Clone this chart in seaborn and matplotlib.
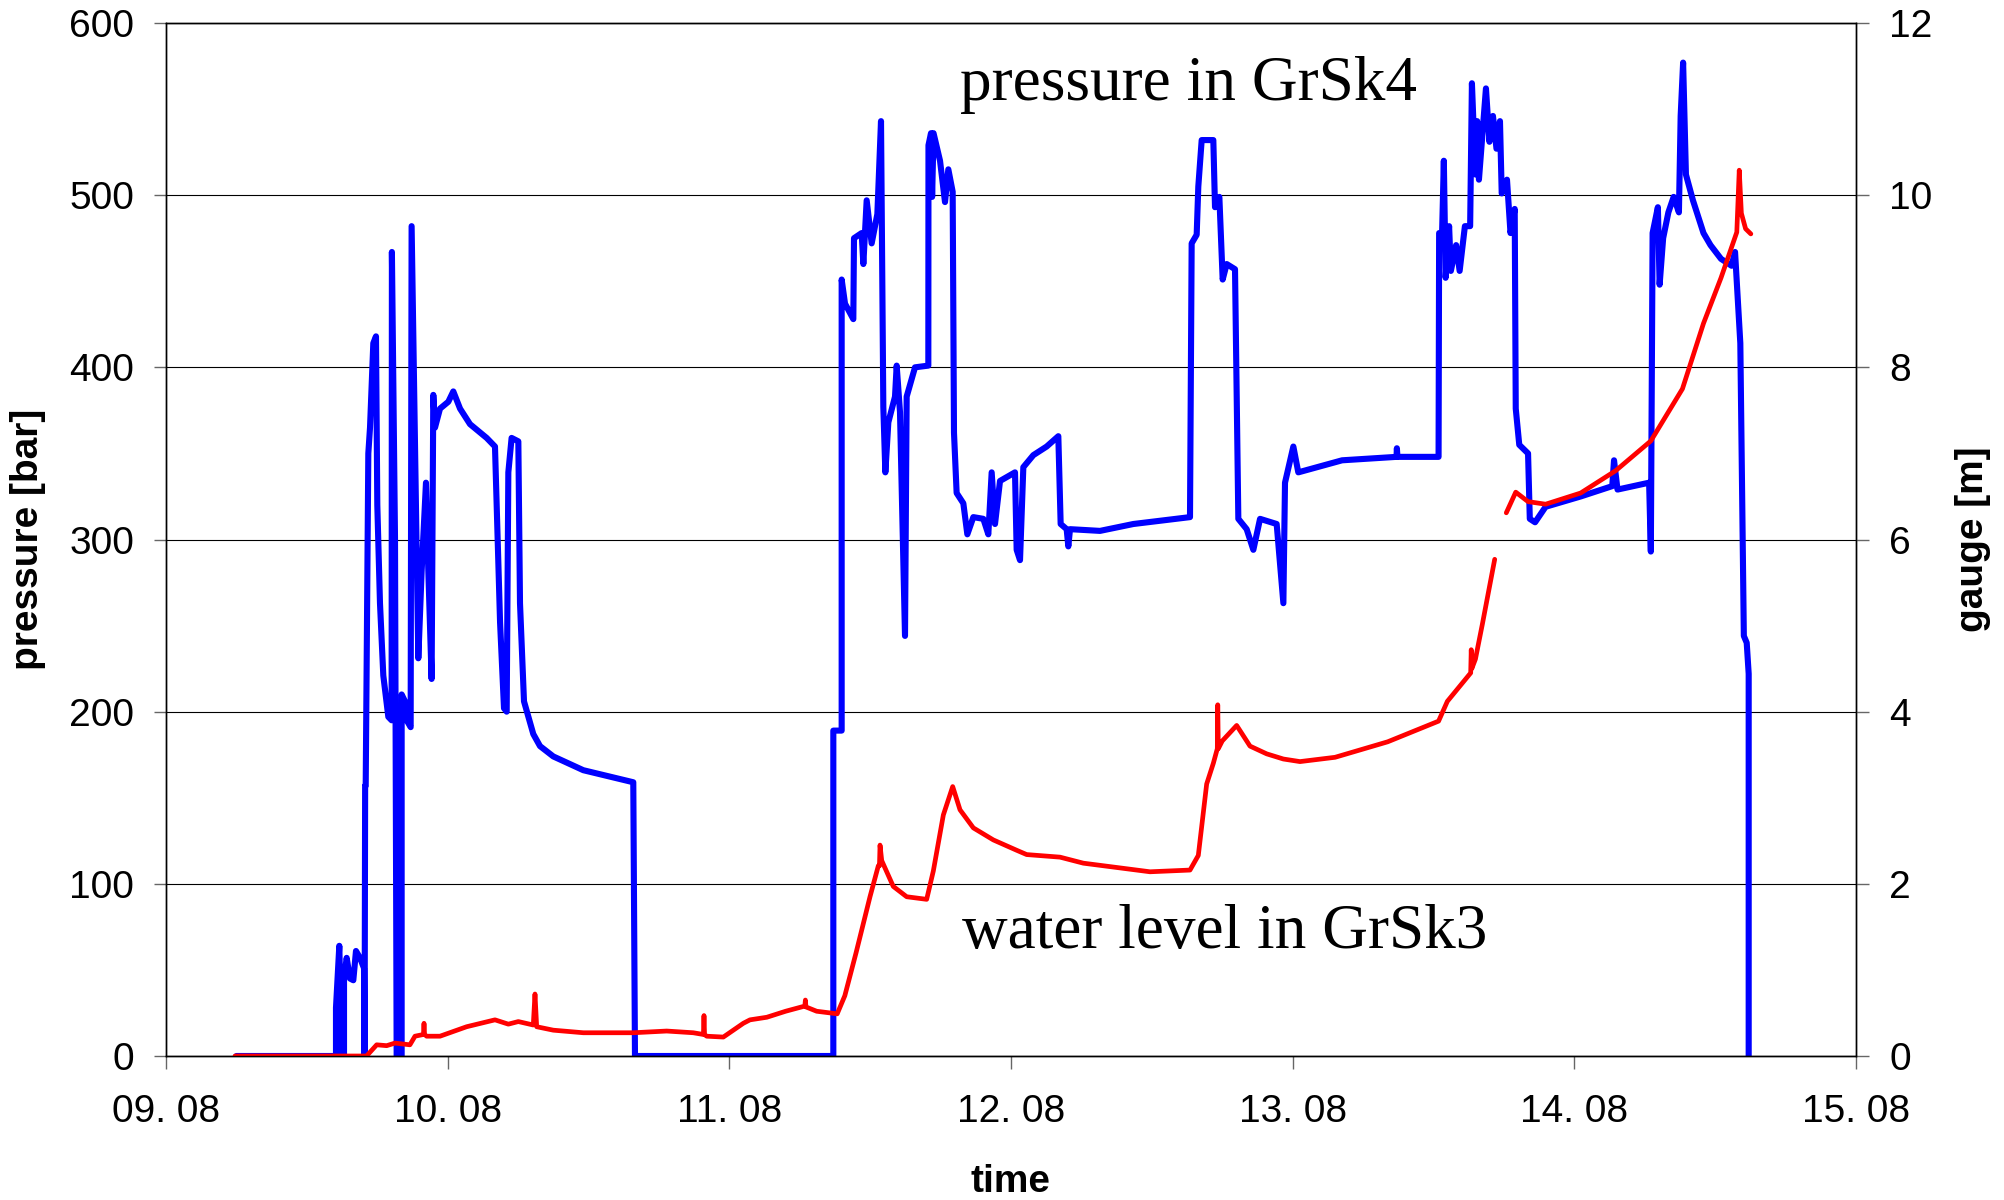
import numpy as np
import pandas as pd
import seaborn as sns
import matplotlib.pyplot as plt

# pressure in GrSk4 (time in days of August, pressure in bar)
p_time = [9.25, 9.60, 9.6035, 9.6035, 9.6153, 9.6236, 9.632, 9.632, 9.6414, 9.6532, 9.665, 9.6745,
          9.6887, 9.703, 9.705, 9.707, 9.709, 9.7183, 9.7243, 9.736, 9.7455, 9.7502, 9.7597, 9.7715,
          9.7893, 9.801, 9.802, 9.813, 9.8189, 9.8366, 9.8366, 9.8485, 9.8544, 9.8686, 9.872, 9.884,
          9.8958, 9.9077, 9.923, 9.9313, 9.943, 9.949, 9.955, 9.9728, 10.0023, 10.02, 10.044, 10.0793,
          10.1384, 10.168, 10.174, 10.186, 10.20, 10.2095, 10.2154, 10.227, 10.2509, 10.2568, 10.271,
          10.304, 10.3278, 10.375, 10.4816, 10.659, 10.665, 11.3692, 11.3692, 11.3988, 11.3988, 11.4107,
          11.4402, 11.4426, 11.4698, 11.4758, 11.4876, 11.5053, 11.5255, 11.5385, 11.5467, 11.5539,
          11.5645, 11.5882, 11.5941, 11.6059, 11.6237, 11.6296, 11.6592, 11.7065, 11.707, 11.716, 11.72,
          11.725, 11.748, 11.7657, 11.7775, 11.7929, 11.7976, 11.807, 11.8308, 11.845, 11.8663, 11.9018,
          11.9195, 11.9314, 11.9432, 11.961, 12.0142, 12.0201, 12.032, 12.0438, 12.0793, 12.1266, 12.168,
          12.1763, 12.1976, 12.2035, 12.2095, 12.316, 12.4343, 12.6355, 12.6414, 12.6592, 12.665, 12.677,
          12.7183, 12.7243, 12.7397, 12.7515, 12.7657, 12.7953, 12.8071, 12.8367, 12.8604, 12.8842,
          12.9432, 12.967, 12.9728, 13.0024, 13.02, 13.1755, 13.3686, 13.370, 13.372, 13.518, 13.52,
          13.5305, 13.5367, 13.543, 13.5554, 13.5616, 13.5803, 13.5928, 13.6115, 13.6301, 13.6364,
          13.6488, 13.655, 13.6613, 13.6737, 13.6862, 13.6986, 13.7111, 13.7236, 13.736, 13.7422,
          13.7609, 13.7734, 13.7883, 13.792, 13.8045, 13.8357, 13.8419, 13.8606, 13.898, 14.0225,
          14.1346, 14.1409, 14.1533, 14.2655, 14.2716, 14.2779, 14.2966, 14.3028, 14.3153, 14.3339,
          14.3526, 14.3713, 14.3775, 14.3862, 14.3962, 14.4211, 14.4585, 14.4834, 14.5208, 14.5581,
          14.5706, 14.5893, 14.6018, 14.612, 14.619, 14.619]
p_bar = [0, 0, 0, 28, 64, 0, 0, 45, 57, 45, 44, 61,
         57, 51, 0, 157, 157, 350, 365, 414, 418, 320, 263, 221,
         197, 195, 467, 301, 0, 0, 210, 206, 195, 191, 482, 357,
         231, 282, 333, 282, 219, 384, 365, 376, 380, 386, 376, 367,
         359, 354, 320, 252, 202, 200, 339, 359, 357, 263, 206,
         187, 180, 174, 166, 159, 0, 0, 189, 189, 451, 437,
         428, 475, 478, 460, 497, 472, 489, 543, 377, 339,
         368, 383, 401, 374, 244, 383, 400, 401, 529, 536, 499,
         536, 520, 496, 515, 502, 362, 327, 321, 303, 313, 312,
         303, 339, 309, 334, 339, 294, 288, 342, 349, 354, 360,
         309, 306, 296, 306, 305, 309, 313, 472, 477, 505, 532,
         532, 493, 499, 451, 460, 457, 312, 306, 294, 312,
         309, 263, 333, 354, 339, 346, 348, 353, 348, 348, 478,
         478, 520, 452, 482, 456, 471, 456, 482, 482, 565,
         512, 543, 509, 535, 562, 531, 546, 527, 543, 501,
         509, 478, 492, 376, 355, 350, 312, 310, 319, 325,
         331, 346, 329, 333, 293, 478, 493, 448, 475, 490,
         499, 490, 546, 577, 512, 497, 478, 471, 463, 459,
         467, 414, 244, 240, 222, 0]

# water level in GrSk3 (gauge in m), two pieces with a gap
w1_time = [9.245, 9.712, 9.748, 9.7834, 9.813, 9.866, 9.884, 9.914, 9.916, 9.918, 9.9254, 9.9728,
           10.0674, 10.168, 10.2154, 10.2509, 10.304, 10.31, 10.316, 10.375, 10.4816, 10.659,
           10.7775, 10.872, 10.908, 10.91, 10.912, 10.9195, 10.9787, 11.0142, 11.0497, 11.0733,
           11.133, 11.2, 11.268, 11.27, 11.272, 11.31, 11.383, 11.41, 11.45, 11.4994, 11.529, 11.533,
           11.535, 11.541, 11.582, 11.6296, 11.7006, 11.7243, 11.7598, 11.793, 11.819, 11.8663,
           11.9373, 12.0201, 12.0556, 12.174, 12.2568, 12.3752, 12.4935, 12.6355, 12.665, 12.6947,
           12.7183, 12.7325, 12.734, 12.736, 12.75, 12.8012, 12.8485, 12.9077, 12.967, 13.026,
           13.1506, 13.3374, 13.518, 13.5492, 13.632, 13.634, 13.636, 13.6488, 13.6737, 13.7173]
w1_gauge = [0.0, 0.0, 0.13, 0.12, 0.15, 0.13, 0.23, 0.25, 0.38, 0.25, 0.23, 0.23,
            0.34, 0.42, 0.37, 0.40, 0.36, 0.72, 0.34, 0.30, 0.27, 0.27,
            0.29, 0.27, 0.25, 0.47, 0.25, 0.23, 0.22, 0.30, 0.38, 0.42,
            0.45, 0.52, 0.58, 0.65, 0.57, 0.52, 0.49, 0.70, 1.20, 1.85, 2.21, 2.21,
            2.45, 2.27, 1.97, 1.85, 1.82, 2.15, 2.80, 3.13, 2.86, 2.65,
            2.51, 2.39, 2.34, 2.31, 2.24, 2.19, 2.14, 2.16, 2.33, 3.16,
            3.40, 3.57, 4.08, 3.57, 3.66, 3.84, 3.60, 3.51, 3.45, 3.42,
            3.47, 3.65, 3.89, 4.12, 4.45, 4.72, 4.50, 4.61, 5.02, 5.77]
w2_time = [13.7584, 13.792, 13.8357, 13.898, 14.0225, 14.1471, 14.2716, 14.3838, 14.4585,
           14.5208, 14.5768, 14.5855, 14.593, 14.608, 14.6267]
w2_gauge = [6.31, 6.55, 6.44, 6.41, 6.54, 6.80, 7.145, 7.75, 8.51,
            9.04, 9.57, 10.29, 9.79, 9.61, 9.55]

day_ticks = [9, 10, 11, 12, 13, 14, 15]
day_labels = ['09. 08', '10. 08', '11. 08', '12. 08', '13. 08', '14. 08', '15. 08']

sns.set_style('ticks')
plt.rcParams['font.family'] = ['Liberation Sans', 'DejaVu Sans']
plt.rcParams['text.color'] = 'black'
plt.rcParams['axes.labelcolor'] = 'black'

pressure = pd.DataFrame({'time': p_time, 'pressure': p_bar})
level1 = pd.DataFrame({'time': w1_time, 'gauge': w1_gauge})
level2 = pd.DataFrame({'time': w2_time, 'gauge': w2_gauge})

fig = plt.figure(figsize=(20.04, 12), dpi=100)
ax = fig.add_axes([166 / 2004, 1 - 1056 / 1200, 1690 / 2004, 1033 / 1200])
ax2 = ax.twinx()

sns.lineplot(data=pressure, x='time', y='pressure', ax=ax, color='#0000ff',
             linewidth=4.4, estimator=None, sort=False)
for lv in (level1, level2):
    sns.lineplot(data=lv, x='time', y='gauge', ax=ax2, color='#ff0000',
                 linewidth=3.4, estimator=None, sort=False)

ax.set_xlim(9, 15)
ax.set_ylim(0, 600)
ax2.set_ylim(0, 12)
ax.set_xticks(day_ticks)
ax.set_xticklabels(day_labels)
ax.set_yticks(range(0, 601, 100))
ax2.set_yticks(range(0, 13, 2))
ax.yaxis.grid(True, color='black', linewidth=0.8)
ax2.grid(False)

for a in (ax, ax2):
    for sp in a.spines.values():
        sp.set_visible(True)
        sp.set_color('black')
        sp.set_linewidth(1.0)
    a.tick_params(labelsize=28, length=9, width=1, color='0.4', labelcolor='black')
ax.tick_params(axis='y', pad=14)
ax2.tick_params(axis='y', pad=15)
ax.tick_params(axis='x', pad=18)

ax.set_xlabel('time', fontsize=28, fontweight='bold', va='center')
ax.set_ylabel('pressure [bar]', fontsize=28, fontweight='bold', va='center', ha='center')
ax2.set_ylabel('gauge [m]', fontsize=28, fontweight='bold', va='center', ha='center')
ax.xaxis.set_label_coords(0.5, -0.1215)
ax.yaxis.set_label_coords(-0.0817, 0.5)
ax2.yaxis.set_label_coords(1.0692, 0.5)

ax.text(11.819, 555.3, 'pressure in GrSk4', fontsize=45.5, family='Liberation Serif',
        color='black', ha='left', va='baseline')
ax.text(11.825, 62.5, 'water level in GrSk3', fontsize=45.5, family='Liberation Serif',
        color='black', ha='left', va='baseline')

fig.savefig('out.png', dpi=100)
